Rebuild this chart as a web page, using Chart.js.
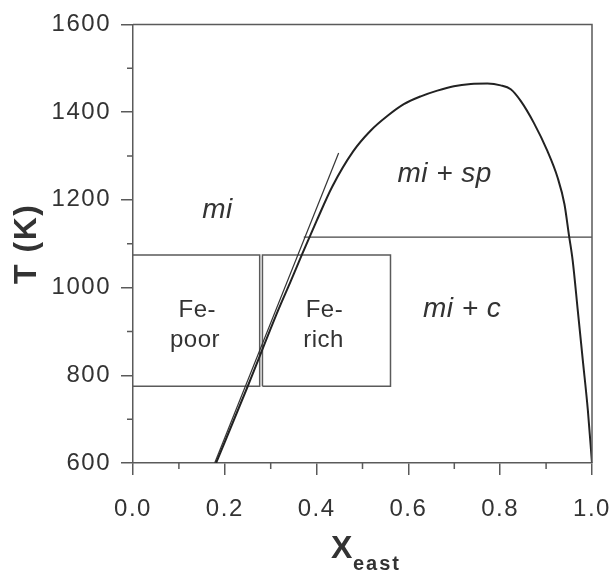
<!DOCTYPE html>
<html>
<head>
<meta charset="utf-8">
<script src="https://cdn.jsdelivr.net/npm/chart.js@4.4.1/dist/chart.umd.min.js"></script>
<style>
  html, body { margin: 0; padding: 0; background: #fff; }
</style>
</head>
<body>
<canvas id="myChart" width="614" height="572"></canvas>
<script>
// miscibility dome (solvus) of the magnetite - ulvospinel system
const domeX = [0.181, 0.250, 0.317, 0.343, 0.368, 0.400, 0.434, 0.480, 0.517, 0.554, 0.590, 0.627,
               0.663, 0.699, 0.736, 0.772, 0.801, 0.823, 0.845, 0.873, 0.903, 0.925, 0.940, 0.950,
               0.958, 0.969, 0.980, 0.991, 1.000];
const domeT = [600, 775, 950, 1013, 1075, 1152, 1230, 1311, 1357, 1391, 1418, 1436,
               1449, 1459, 1464, 1465, 1461, 1452, 1425, 1376, 1311, 1251, 1190, 1118,
               1061, 948, 834, 720, 600];
// straight line
const lineX = [0.178, 0.448];
const lineT = [600, 1307];
// horizontal line
const flatX = [0.372, 1.0];
const flatT = [1115, 1115];
// Fe-poor and Fe-rich boxes
const poorX = [0, 0.276, 0.276, 0];
const poorT = [1074, 1074, 775, 775];
const richX = [0.282, 0.561, 0.561, 0.282, 0.282];
const richT = [775, 775, 1074, 1074, 775];
// minor ticks
const xMinor = [0.1, 0.3, 0.5, 0.7, 0.9];
const yMinor = [700, 900, 1100, 1300, 1500];
// region labels
const labelText = ['mi', 'mi + sp', 'mi + c', 'Fe-', 'poor', 'Fe-', 'rich'];
const labelX = [0.184, 0.679, 0.717, 0.140, 0.135, 0.417, 0.415];
const labelT = [1159, 1241, 932, 932, 864, 932, 864];

const axisColor = '#5a5a5a';
const textColor = '#333';
const fontFamily = '"Liberation Sans", Arial, sans-serif';

const pts = (xs, ts) => xs.map((v, i) => ({ x: v, y: ts[i] }));

const annotate = {
  id: 'annotate',
  beforeDraw(chart) {
    chart.ctx.letterSpacing = '1.5px';
  },
  afterDraw(chart) {
    const { ctx, chartArea, scales: { x, y } } = chart;
    ctx.save();
    ctx.strokeStyle = axisColor;
    ctx.lineWidth = 1.5;
    // top and right frame
    ctx.beginPath();
    ctx.moveTo(chartArea.left, chartArea.top);
    ctx.lineTo(chartArea.right, chartArea.top);
    ctx.lineTo(chartArea.right, chartArea.bottom);
    ctx.stroke();
    // minor ticks
    ctx.beginPath();
    xMinor.forEach(v => {
      const px = x.getPixelForValue(v);
      ctx.moveTo(px, chartArea.bottom);
      ctx.lineTo(px, chartArea.bottom + 6);
    });
    yMinor.forEach(v => {
      const py = y.getPixelForValue(v);
      ctx.moveTo(chartArea.left, py);
      ctx.lineTo(chartArea.left - 6, py);
    });
    ctx.stroke();

    // region labels
    ctx.fillStyle = textColor;
    ctx.textAlign = 'center';
    ctx.textBaseline = 'alphabetic';
    labelText.forEach((t, i) => {
      const italic = t.startsWith('mi');
      ctx.font = italic ? 'italic 28px ' + fontFamily : '24px ' + fontFamily;
      ctx.letterSpacing = '0.5px';
      ctx.fillText(t, x.getPixelForValue(labelX[i]), y.getPixelForValue(labelT[i]));
    });

    // x axis title with subscript
    ctx.textAlign = 'left';
    ctx.font = 'bold 32px ' + fontFamily;
    ctx.letterSpacing = '0px';
    ctx.fillText('X', 331, 558);
    ctx.font = 'bold 20px ' + fontFamily;
    ctx.letterSpacing = '2px';
    ctx.fillText('east', 353, 570);
    ctx.restore();
  }
};

const lineSet = (data, color, width, extra) => Object.assign({
  data: data,
  showLine: true,
  fill: false,
  borderColor: color,
  borderWidth: width,
  pointRadius: 0,
  pointHoverRadius: 0
}, extra || {});

new Chart(document.getElementById('myChart').getContext('2d'), {
  type: 'scatter',
  data: {
    datasets: [
      lineSet(pts(domeX, domeT), '#222', 2, { cubicInterpolationMode: 'monotone' }),
      lineSet(pts(lineX, lineT), '#333', 1.2),
      lineSet(pts(flatX, flatT), '#444', 1.3),
      lineSet(pts(poorX, poorT), axisColor, 1.5),
      lineSet(pts(richX, richT), axisColor, 1.5)
    ]
  },
  plugins: [annotate],
  options: {
    responsive: false,
    animation: false,
    layout: { padding: { top: 23, right: 22, left: 0, bottom: 0 } },
    plugins: {
      legend: { display: false },
      tooltip: { enabled: false }
    },
    scales: {
      x: {
        type: 'linear',
        min: 0,
        max: 1,
        afterFit: s => { s.height = 109; s.paddingLeft = 0; s.paddingRight = 0; },
        border: { display: true, color: axisColor, width: 1.5 },
        grid: { drawOnChartArea: false, drawTicks: true, tickLength: 12, color: axisColor, lineWidth: 1.5 },
        ticks: {
          stepSize: 0.2,
          padding: 20,
          color: textColor,
          font: { family: fontFamily, size: 24 },
          callback: v => v.toFixed(1)
        },
        title: { display: false }
      },
      y: {
        min: 600,
        max: 1600,
        afterFit: s => { s.width = 133; },
        border: { display: true, color: axisColor, width: 1.5 },
        grid: { drawOnChartArea: false, drawTicks: true, tickLength: 12, color: axisColor, lineWidth: 1.5 },
        ticks: {
          stepSize: 200,
          padding: 10,
          color: textColor,
          font: { family: fontFamily, size: 24 },
          callback: v => String(v)
        },
        title: {
          display: true,
          text: 'T (K)',
          color: textColor,
          font: { family: fontFamily, size: 32, weight: 'bold' },
          padding: { top: 8, bottom: 0 }
        }
      }
    }
  }
});
</script>
</body>
</html>
